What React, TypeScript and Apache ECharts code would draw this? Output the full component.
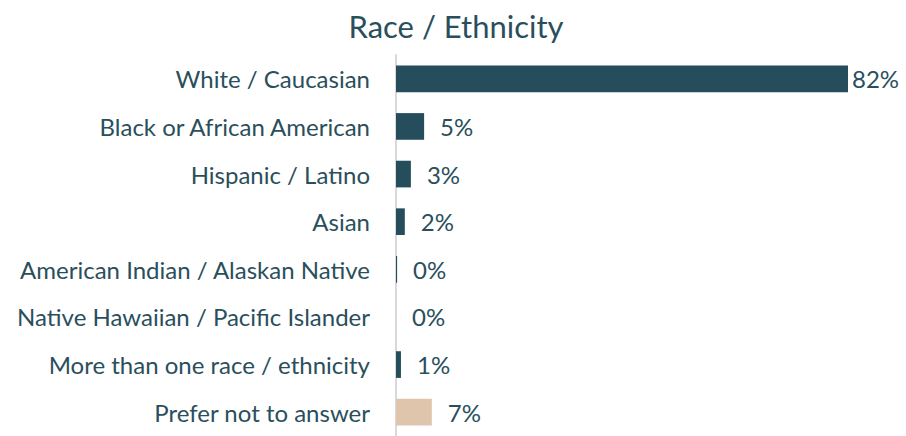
import React, { useEffect, useRef } from "react";
import * as echarts from "echarts";

const categories = [
  "White / Caucasian",
  "Black or African American",
  "Hispanic / Latino",
  "Asian",
  "American Indian / Alaskan Native",
  "Native Hawaiian / Pacific Islander",
  "More than one race / ethnicity",
  "Prefer not to answer",
];
const values = [82, 5.1, 2.7, 1.6, 0.2, 0, 0.9, 6.5];
const barColors = ["#264D5B", "#264D5B", "#264D5B", "#264D5B", "#264D5B", "#264D5B", "#264D5B", "#E0C5AD"];
const titleText = "Race / Ethnicity";

export default function App() {
  const ref = useRef<HTMLDivElement>(null);
  useEffect(() => {
    document.body.style.margin = "0";
    const chart = echarts.init(ref.current!, null, { renderer: "svg" });
    const font = "Lato";
    const textColor = "#2A4F5C";
    chart.setOption({
      animation: false,
      title: {
        text: titleText,
        left: 451,
        textAlign: "center",
        top: 5,
        textStyle: { fontFamily: font, fontSize: 31, fontWeight: "normal", color: textColor },
      },
      grid: { left: 396, top: 55, width: 496.1, height: 384, containLabel: false },
      xAxis: {
        type: "value",
        min: 0,
        max: 90,
        show: false,
      },
      yAxis: {
        type: "category",
        data: categories,
        inverse: true,
        axisLine: { show: true, lineStyle: { color: "#D9D9D9", width: 2 } },
        axisTick: { show: false },
        axisLabel: { margin: 26, fontFamily: font, fontSize: 24, color: textColor },
      },
      series: [
        {
          type: "bar",
          barCategoryGap: "44%",
          data: values.map((v, i) => ({
            value: v,
            itemStyle: { color: barColors[i] },
            label: i === 0 ? { distance: 4 } : undefined,
          })),
          label: {
            show: true,
            position: "right",
            distance: 16,
            fontFamily: font,
            fontSize: 24,
            color: textColor,
            formatter: (p: any) => Math.round(p.value) + "%",
          },
        },
      ],
    });
    return () => chart.dispose();
  }, []);
  return <div ref={ref} style={{ width: 906, height: 436 }} />;
}
